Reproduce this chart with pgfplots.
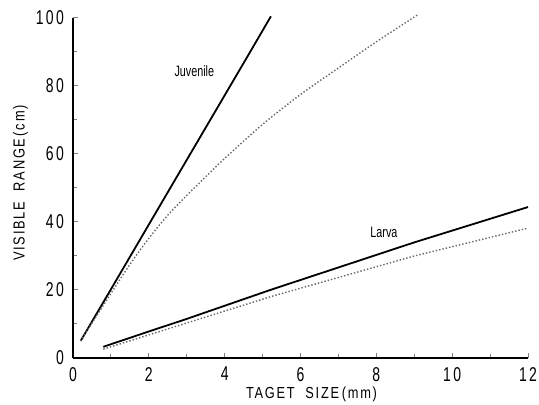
\documentclass[border=0pt]{standalone}
\usepackage{fontspec}
\setmainfont{Liberation Sans}[FakeStretch=0.72]
\newfontfamily\tickfont{Liberation Sans}[FakeStretch=0.7,LetterSpace=12]
\newfontfamily\labfont{Liberation Sans}[FakeStretch=0.8,LetterSpace=11]
\usepackage{pgfplots}
\pgfplotsset{compat=1.18}
\begin{document}
\begin{tikzpicture}
\useasboundingbox (-36.5pt,-23.5pt) rectangle (233pt,179pt);
\begin{axis}[
    scale only axis,
    width=227.5pt,
    height=170pt,
    xmin=0, xmax=12,
    ymin=0, ymax=100,
    axis lines=left,
    axis line style={-, line width=0.6pt},
    xtick={0,2,...,12},
    ytick={0,20,...,100},
    minor x tick num=1,
    minor y tick num=1,
    tick align=inside,
    major tick length=2.5pt,
    minor tick length=1.8pt,
    tick style={line width=0.5pt},
    /pgf/number format/assume math mode=true,
    ticklabel style={font=\tickfont\fontsize{10}{12}\selectfont},
    xticklabel style={yshift=-1pt},
    yticklabel style={xshift=-1pt},
    xlabel={\labfont\fontsize{8}{10}\selectfont TAGET\ \ SIZE\,(mm)},
    ylabel={\labfont\fontsize{8}{10}\selectfont VISIBLE\ \ RANGE\,(cm)},
    xlabel style={yshift=4pt, xshift=5.5pt},
    ylabel style={yshift=-3pt, xshift=2.5pt},
    clip=false,
]
% Juvenile, solid
\addplot[black, line width=0.9pt] coordinates {
(0.2,5) (1,20.2) (2.36,46.1) (4.55,87.7) (5.22,100.5)};
% Juvenile, dotted
\addplot[gray!80!black, densely dotted, line width=0.7pt, smooth] coordinates {
(0.2,5) (0.6,12) (1.06,20) (1.5,27.5) (2,35.2) (2.5,42) (3,47.8) (3.5,53.3)
(4,58.7) (5,68.7) (6,77.5) (7,85.3) (8,93) (9.1,101)};
% Larva, solid
\addplot[black, line width=0.9pt] coordinates {
(0.8,3.3) (2,7.8) (3,11.5) (5.2,20) (9,34) (12,44.4)};
% Larva, dotted
\addplot[gray!80!black, densely dotted, line width=0.7pt] coordinates {
(0.8,2.6) (3,10.3) (5.2,18) (9,30) (12,38.2)};
\node[font=\fontsize{7.5}{9}\selectfont] at (axis cs:3.2,84.5) {Juvenile};
\node[font=\fontsize{7.5}{9}\selectfont] at (axis cs:8.2,37) {Larva};
\end{axis}
\end{tikzpicture}
\end{document}
